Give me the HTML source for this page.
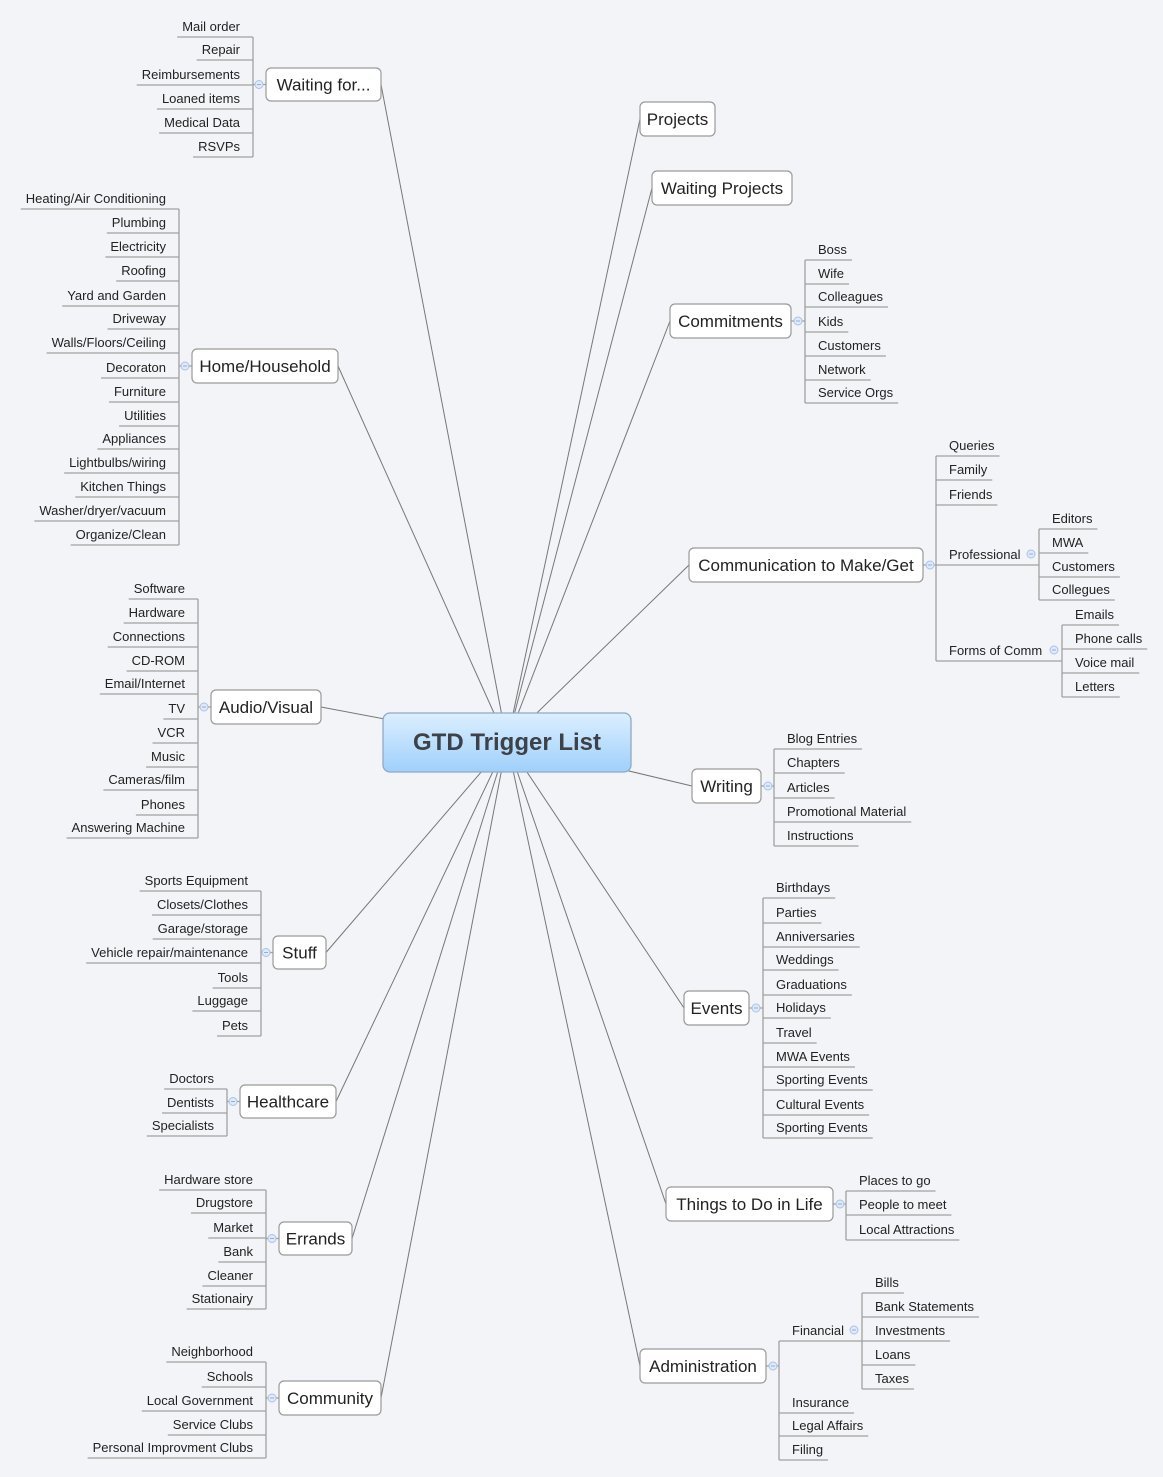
<!DOCTYPE html>
<html><head><meta charset="utf-8"><style>
html,body{margin:0;padding:0;background:#f3f4f7}
svg{display:block}
text{font-family:"Liberation Sans",sans-serif;fill:#222}
</style></head><body>
<svg id="s" width="1163" height="1477" xmlns="http://www.w3.org/2000/svg">
<defs><linearGradient id="g" x1="0" y1="0" x2="0" y2="1"><stop offset="0" stop-color="#dcefff"/><stop offset="1" stop-color="#9fd0fb"/></linearGradient></defs>
<g id="lines"></g><g id="fg"></g>
</svg>
<script>
const NS="http://www.w3.org/2000/svg";
const Lg=document.getElementById('lines'),F=document.getElementById('fg');
function el(p,n,a,t){const e=document.createElementNS(NS,n);for(const k in a)e.setAttribute(k,a[k]);if(t!=null)e.textContent=t;p.appendChild(e);return e;}
function line(x1,y1,x2,y2,c,w){el(Lg,'line',{x1,y1,x2,y2,stroke:c||'#9a9a9a','stroke-width':w||1.2});}
function circ(x,y){el(F,'circle',{cx:x,cy:y,r:4,fill:'#dfe9f7',stroke:'#a9c3e6','stroke-width':1});el(F,'line',{x1:x-2,y1:y,x2:x+2,y2:y,stroke:'#8fb0dd','stroke-width':1});}
function txt(x,y,s,anchor,size){return el(F,'text',{x,y:y+5,'font-size':size||13,'text-anchor':anchor||'start'},s);}
const CX=507,CY=742;
function leaves(bx,items,side){
  const ys=items.map(i=>i[0]+11);
  line(bx,Math.min(...ys),bx,Math.max(...ys),'#a0a0a0',1.3);
  items.forEach(it=>{
    const [y,s,kids]=it;
    if(side<0){const t=txt(bx-13,y,s,'end');const w=t.getComputedTextLength();line(bx-13-w-5,y+11,bx,y+11,'#a0a0a0',1.3);}
    else{const t=txt(bx+13,y,s,'start');const w=t.getComputedTextLength();
      if(kids){line(bx,y+11,kids.bx,y+11,'#a0a0a0',1.3);circ(kids.bx-8,y);leaves(kids.bx,kids.items,1);}
      else line(bx,y+11,bx+13+w+5,y+11,'#a0a0a0',1.3);}
  });
}
function topic(b,label,side,bx,items){
  const [x1,y1,x2,y2]=b,my=(y1+y2)/2;
  line(side<0?x2:x1,my,CX,CY,'#777',1);
  el(F,'rect',{x:x1,y:y1,width:x2-x1,height:y2-y1,rx:5,fill:'#fff',stroke:'#9a9a9a','stroke-width':1.2});
  txt((x1+x2)/2,my+1,label,'middle',17);
  if(items){
    if(side<0){line(bx,my,x1,my,'#a0a0a0',1.3);circ(x1-7,my);}
    else{line(x2,my,bx,my,'#a0a0a0',1.3);circ(x2+7,my);}
    leaves(bx,items,side);
  }
}
topic([266,68,381,101],'Waiting for...',-1,253,[[26,'Mail order'],[49,'Repair'],[74,'Reimbursements'],[98,'Loaned items'],[122,'Medical Data'],[146,'RSVPs']]);
topic([192,349,338,383],'Home/Household',-1,179,[[198,'Heating/Air Conditioning'],[222,'Plumbing'],[246,'Electricity'],[270,'Roofing'],[295,'Yard and Garden'],[318,'Driveway'],[342,'Walls/Floors/Ceiling'],[367,'Decoraton'],[391,'Furniture'],[415,'Utilities'],[438,'Appliances'],[462,'Lightbulbs/wiring'],[486,'Kitchen Things'],[510,'Washer/dryer/vacuum'],[534,'Organize/Clean']]);
topic([211,690,321,724],'Audio/Visual',-1,198,[[588,'Software'],[612,'Hardware'],[636,'Connections'],[660,'CD-ROM'],[683,'Email/Internet'],[708,'TV'],[732,'VCR'],[756,'Music'],[779,'Cameras/film'],[804,'Phones'],[827,'Answering Machine']]);
topic([273,936,326,969],'Stuff',-1,261,[[880,'Sports Equipment'],[904,'Closets/Clothes'],[928,'Garage/storage'],[952,'Vehicle repair/maintenance'],[977,'Tools'],[1000,'Luggage'],[1025,'Pets']]);
topic([240,1085,336,1118],'Healthcare',-1,227,[[1078,'Doctors'],[1102,'Dentists'],[1125,'Specialists']]);
topic([279,1222,352,1255],'Errands',-1,266,[[1179,'Hardware store'],[1202,'Drugstore'],[1227,'Market'],[1251,'Bank'],[1275,'Cleaner'],[1298,'Stationairy']]);
topic([279,1381,381,1415],'Community',-1,266,[[1351,'Neighborhood'],[1376,'Schools'],[1400,'Local Government'],[1424,'Service Clubs'],[1447,'Personal Improvment Clubs']]);
topic([640,102,715,136],'Projects',1);
topic([652,171,792,205],'Waiting Projects',1);
topic([670,304,791,338],'Commitments',1,805,[[249,'Boss'],[273,'Wife'],[296,'Colleagues'],[321,'Kids'],[345,'Customers'],[369,'Network'],[392,'Service Orgs']]);
topic([689,548,923,582],'Communication to Make/Get',1,936,[[445,'Queries'],[469,'Family'],[494,'Friends'],
 [554,'Professional',{bx:1039,items:[[518,'Editors'],[542,'MWA'],[566,'Customers'],[589,'Collegues']]}],
 [650,'Forms of Comm',{bx:1062,items:[[614,'Emails'],[638,'Phone calls'],[662,'Voice mail'],[686,'Letters']]}]]);
topic([692,769,761,803],'Writing',1,774,[[738,'Blog Entries'],[762,'Chapters'],[787,'Articles'],[811,'Promotional Material'],[835,'Instructions']]);
topic([684,991,749,1025],'Events',1,763,[[887,'Birthdays'],[912,'Parties'],[936,'Anniversaries'],[959,'Weddings'],[984,'Graduations'],[1007,'Holidays'],[1032,'Travel'],[1056,'MWA Events'],[1079,'Sporting Events'],[1104,'Cultural Events'],[1127,'Sporting Events']]);
topic([666,1187,833,1221],'Things to Do in Life',1,846,[[1180,'Places to go'],[1204,'People to meet'],[1229,'Local Attractions']]);
topic([640,1349,766,1383],'Administration',1,779,[[1330,'Financial',{bx:862,items:[[1282,'Bills'],[1306,'Bank Statements'],[1330,'Investments'],[1354,'Loans'],[1378,'Taxes']]}],[1402,'Insurance'],[1425,'Legal Affairs'],[1449,'Filing']]);
el(F,'rect',{x:383,y:713,width:248,height:59,rx:7,fill:'url(#g)',stroke:'#8fa9c4','stroke-width':1.3});
el(F,'text',{x:507,y:750,'font-size':24,'font-weight':'bold','text-anchor':'middle',style:'fill:#3d4148'},'GTD Trigger List');
</script>
</body></html>
